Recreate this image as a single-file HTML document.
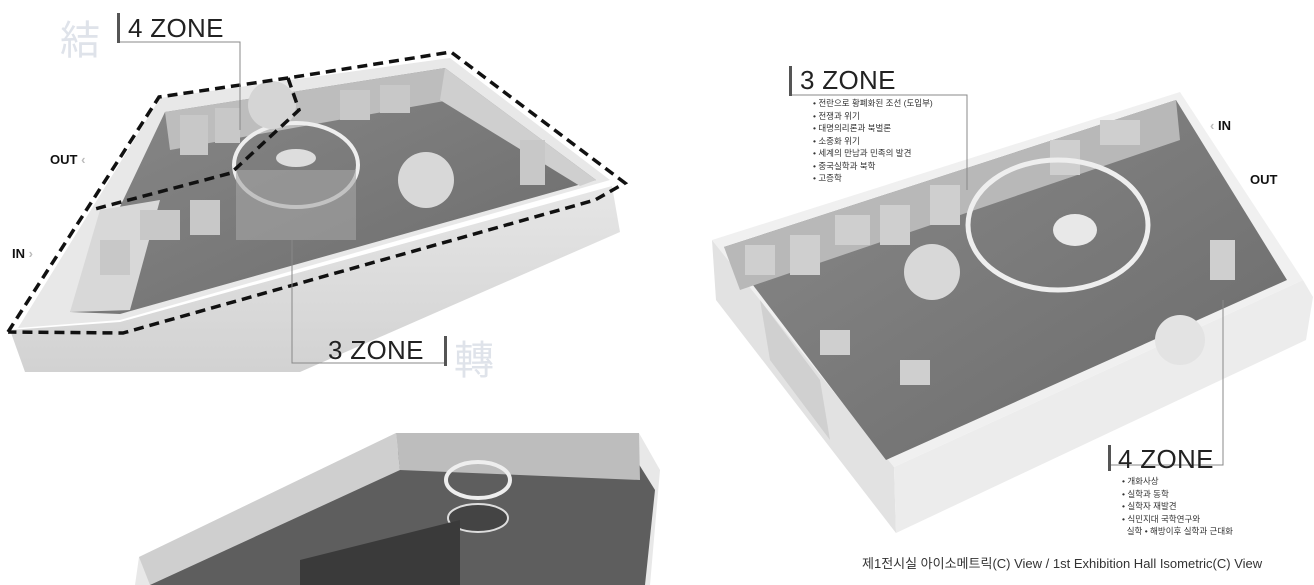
<!DOCTYPE html>
<html><head><meta charset="utf-8"><style>
html,body{margin:0;padding:0;background:#fff;}
body{width:1314px;height:585px;overflow:hidden;position:relative;font-family:"Liberation Sans","Noto Sans CJK KR",sans-serif;}
.t{position:absolute;white-space:nowrap;}
.zone{font-size:26px;color:#222;letter-spacing:0.3px;}
.li{font-size:8.5px;color:#333;line-height:12.5px;}
.bold{font-weight:bold;font-size:13px;color:#111;}
</style></head><body>
<svg width="1314" height="585" style="position:absolute;left:0;top:0">
<defs>
<linearGradient id="fl" x1="0" y1="0" x2="1" y2="1"><stop offset="0" stop-color="#8a8a8a"/><stop offset="1" stop-color="#6a6a6a"/></linearGradient>
<linearGradient id="wl" x1="0" y1="0" x2="0" y2="1"><stop offset="0" stop-color="#e6e6e6"/><stop offset="1" stop-color="#d2d2d2"/></linearGradient>
</defs>
<!-- LEFT TOP ROOM -->
<polygon points="10,330 120,322 612,186 620,232 300,372 25,372" fill="url(#wl)"/>
<polygon points="18,328 160,98 450,58 610,180 120,320" fill="#e8e8e8"/>
<polygon points="70,312 165,112 445,68 596,180 120,314" fill="url(#fl)"/>
<polygon points="70,312 100,210 160,200 130,310" fill="#d8d8d8"/>
<polygon points="165,112 445,68 450,100 170,150" fill="#bdbdbd"/>
<polygon points="445,68 596,180 580,186 440,100" fill="#cfcfcf"/>
<g fill="#c8c8c8">
<rect x="180" y="115" width="28" height="40"/><rect x="215" y="108" width="25" height="35"/>
<rect x="340" y="90" width="30" height="30"/><rect x="380" y="85" width="30" height="28"/>
<rect x="520" y="140" width="25" height="45"/><rect x="140" y="210" width="40" height="30"/>
<rect x="100" y="240" width="30" height="35"/><rect x="190" y="200" width="30" height="35"/>
</g>
<ellipse cx="296" cy="165" rx="62" ry="42" fill="none" stroke="#eee" stroke-width="4"/>
<ellipse cx="296" cy="158" rx="20" ry="9" fill="#ddd"/>
<rect x="236" y="170" width="120" height="70" fill="#a5a5a5" opacity="0.6"/>
<circle cx="426" cy="180" r="28" fill="#d8d8d8"/>
<circle cx="272" cy="105" r="24" fill="#d5d5d5"/>
<polyline points="8,332 159,97 288,78 451,52 625,183 595,200 123,333 8,332" fill="none" stroke="#111" stroke-width="3.5" stroke-dasharray="10,6"/>
<polyline points="288,78 299,110 231,173 91,210" fill="none" stroke="#111" stroke-width="3.5" stroke-dasharray="10,6"/>
<polyline points="118,42 240,42 240,130" fill="none" stroke="#888" stroke-width="1"/>
<polyline points="292,240 292,363 445,363" fill="none" stroke="#888" stroke-width="1"/>
<rect x="117" y="13" width="3" height="30" fill="#555"/>
<rect x="444" y="336" width="3" height="30" fill="#555"/>
<!-- RIGHT ROOM -->
<polygon points="712,240 894,467 896,533 716,300" fill="#e2e2e2"/>
<polygon points="894,467 1303,280 1313,297 1306,340 896,533" fill="#ececec"/>
<polygon points="712,240 1180,92 1303,280 894,467" fill="#f0f0f0"/>
<polygon points="724,247 1176,100 1287,280 886,460" fill="url(#fl)"/>
<polygon points="724,247 1176,100 1180,140 740,290" fill="#b8b8b8"/>
<polygon points="760,300 820,380 830,440 770,360" fill="#d0d0d0"/>
<g fill="#cfcfcf">
<rect x="745" y="245" width="30" height="30"/><rect x="790" y="235" width="30" height="40"/>
<rect x="835" y="215" width="35" height="30"/><rect x="880" y="205" width="30" height="40"/>
<rect x="930" y="185" width="30" height="40"/><rect x="1050" y="140" width="30" height="35"/>
<rect x="1100" y="120" width="40" height="25"/><rect x="1210" y="240" width="25" height="40"/>
<rect x="820" y="330" width="30" height="25"/><rect x="900" y="360" width="30" height="25"/>
</g>
<ellipse cx="1058" cy="225" rx="90" ry="65" fill="none" stroke="#eee" stroke-width="5"/>
<ellipse cx="1075" cy="230" rx="22" ry="16" fill="#e8e8e8"/>
<circle cx="932" cy="272" r="28" fill="#d8d8d8"/>
<circle cx="1180" cy="340" r="25" fill="#e3e3e3"/>
<polyline points="790,95 967,95 967,190" fill="none" stroke="#888" stroke-width="1"/>
<polyline points="1110,465 1223,465 1223,300" fill="none" stroke="#888" stroke-width="1"/>
<rect x="789" y="66" width="3" height="30" fill="#555"/>
<rect x="1108" y="445" width="3" height="26" fill="#555"/>
<!-- BOTTOM ROOM -->
<polygon points="135,585 139,557 396,433 639,433 660,470 650,585" fill="#e8e8e8"/>
<polygon points="150,585 170,550 400,450 630,450 655,490 645,585" fill="#5e5e5e"/>
<polygon points="396,433 639,433 640,480 400,470" fill="#bdbdbd"/>
<polygon points="139,557 396,433 400,470 150,585" fill="#cfcfcf"/>
<ellipse cx="478" cy="480" rx="32" ry="18" fill="none" stroke="#eee" stroke-width="4"/>
<ellipse cx="478" cy="518" rx="30" ry="14" fill="#444" stroke="#ddd" stroke-width="2"/>
<polygon points="300,560 460,520 460,585 300,585" fill="#3a3a3a"/>
</svg>
<div class="t" style="left:60px;top:8px;font-size:40px;color:#dfe3ea;">結</div>
<div class="t zone" style="left:128px;top:13px;">4 ZONE</div>
<div class="t" style="left:454px;top:328px;font-size:40px;color:#dfe3ea;">轉</div>
<div class="t zone" style="left:328px;top:335px;">3 ZONE</div>
<div class="t bold" style="left:50px;top:152px;">OUT <span style="color:#bbb">‹</span></div>
<div class="t bold" style="left:12px;top:246px;">IN <span style="color:#bbb">›</span></div>
<div class="t zone" style="left:800px;top:65px;">3 ZONE</div>
<div class="t li" style="left:813px;top:97px;">• 전란으로 황폐화된 조선 (도입부)<br>• 전쟁과 위기<br>• 대명의리론과 북벌론<br>• 소중화 위기<br>• 세계의 만남과 민족의 발견<br>• 중국실학과 북학<br>• 고증학</div>
<div class="t bold" style="left:1210px;top:118px;"><span style="color:#bbb">‹</span> IN</div>
<div class="t bold" style="left:1250px;top:172px;">OUT</div>
<div class="t zone" style="left:1118px;top:444px;">4 ZONE</div>
<div class="t li" style="left:1122px;top:475px;">• 개화사상<br>• 실학과 동학<br>• 실학자 재발견<br>• 식민지대 국학연구와<br>&nbsp;&nbsp;실학 • 해방이후 실학과 근대화</div>
<div class="t" style="left:862px;top:553px;font-size:13px;color:#333;">제1전시실 아이소메트릭(C) View / 1st Exhibition Hall Isometric(C) View</div>
</body></html>
